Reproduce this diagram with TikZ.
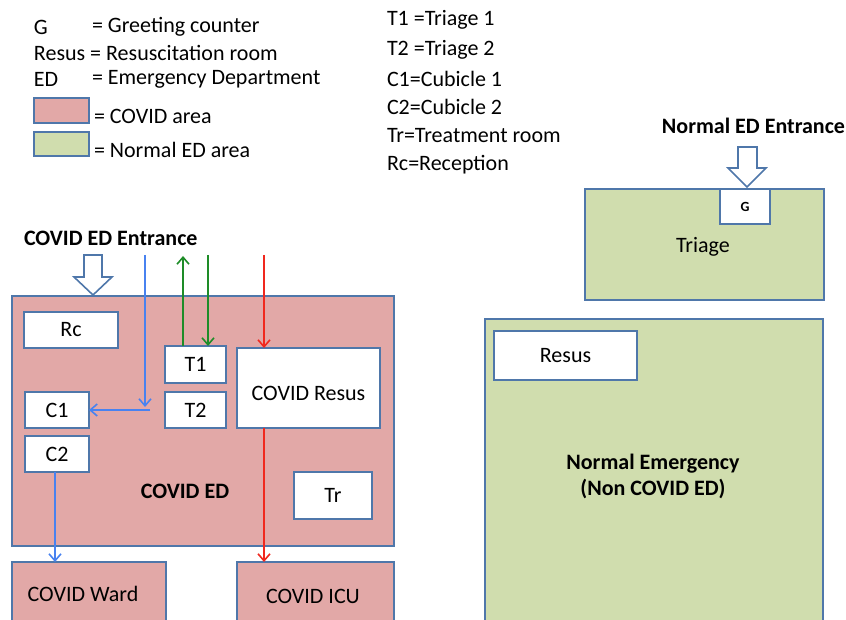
\documentclass[tikz,border=0pt]{standalone}
\usepackage{fontspec}
\setmainfont{Carlito}
\usetikzlibrary{arrows.meta}
\definecolor{pinkfill}{RGB}{226,168,167}
\definecolor{greenfill}{RGB}{208,221,174}
\definecolor{edgeblue}{RGB}{79,119,170}
\definecolor{flowblue}{RGB}{72,130,240}
\definecolor{flowgreen}{RGB}{30,140,40}
\definecolor{flowred}{RGB}{240,40,30}
\begin{document}
\begin{tikzpicture}[x=1pt,y=-1pt,
  every node/.style={font=\fontsize{22}{26}\selectfont, inner sep=0pt, outer sep=0pt},
  area/.style={draw=edgeblue, line width=1.6pt, anchor=north west},
  covid/.style={area, fill=pinkfill},
  normal/.style={area, fill=greenfill},
  room/.style={area, fill=white},
  lbl/.style={anchor=west},
  boldlbl/.style={font=\fontsize{22}{26}\selectfont\bfseries},
  flow/.style={line width=1.6pt, -{Straight Barb[length=7pt,width=12pt]}},
  hollow/.style={draw=edgeblue, line width=1.6pt, fill=white, line join=miter}]
\useasboundingbox (0,0) rectangle (846,620);
\clip (0,0) rectangle (846,620);

% legend (left)
\node[lbl] (lg) at (34,27) {G};
\node[lbl] (lgt) at (92,27) {= Greeting counter};
\node[lbl] (lres) at (34,53) {Resus = Resuscitation room};
\node[lbl] (led) at (34,79) {ED};
\node[lbl] (ledt) at (92,79) {= Emergency Department};
\node[covid, minimum width=55pt, minimum height=25pt] (lpink) at (34,98) {};
\node[lbl] (lpinkt) at (94,116) {= COVID area};
\node[normal, minimum width=55pt, minimum height=24pt] (lgreen) at (34,132) {};
\node[lbl] (lgreent) at (94,150) {= Normal ED area};

% legend (middle)
\node[lbl] (m1) at (387,20) {T1 =Triage 1};
\node[lbl] (m2) at (387,50) {T2 =Triage 2};
\node[lbl] (m3) at (387,79) {C1=Cubicle 1};
\node[lbl] (m4) at (387,107) {C2=Cubicle 2};
\node[lbl] (m5) at (387,136) {Tr=Treatment room};
\node[lbl] (m6) at (387,165) {Rc=Reception};

% COVID side
\node[boldlbl, lbl] (centr) at (24,238) {COVID ED Entrance};
\draw[hollow] (84,255) -- (102,255) -- (102,277) -- (112,277) -- (93,295) -- (74,277) -- (84,277) -- cycle;
\node[covid, minimum width=382pt, minimum height=250pt] (ced) at (12,296) {};
\node[boldlbl] (cedt) at (185,491) {COVID ED};
\node[room, minimum width=94pt, minimum height=36pt] (rc) at (24,312) {Rc};
\node[room, minimum width=61pt, minimum height=37pt] (t1) at (165,346) {T1};
\node[room, minimum width=61pt, minimum height=36pt] (t2) at (165,392) {T2};
\node[room, minimum width=64pt, minimum height=36pt] (c1) at (25,392) {C1};
\node[room, minimum width=64pt, minimum height=36pt] (c2) at (25,436) {C2};
\node[room, minimum width=143pt, minimum height=80pt] (cres) at (237,348) {};
\node (cresl) at (cres.center) [yshift=-5pt] {COVID Resus};
\node[room, minimum width=78pt, minimum height=47pt] (tr) at (294,472) {Tr};
\node[covid, minimum width=154pt, minimum height=80pt] (ward) at (12,562) {};
\node (wardt) at (83,594) {COVID Ward};
\node[covid, minimum width=157pt, minimum height=80pt] (icu) at (237,562) {};
\node (icut) at (313,596) {COVID ICU};

% flows
\coordinate (btop) at (145,255);
\coordinate (bcorner) at (145,407);
\coordinate (bstart) at (150,410);
\draw[flow, flowblue] (btop) -- (bcorner);
\draw[flow, flowblue] (bstart) -- (c1.east |- bstart);
\draw[flow, flowgreen] ([xshift=-12.5pt]t1.north) -- ++(0,-90);
\coordinate (gtop) at (208,255);
\draw[flow, flowgreen] (gtop) -- (gtop |- t1.north);
\coordinate (rtop) at (264,255);
\draw[flow, flowred] (rtop) -- (rtop |- cres.north);
\draw[flow, flowred] (rtop |- cres.south) -- (rtop |- icu.north);
\draw[flow, flowblue] ([xshift=-2pt]c2.south) -- ([xshift=-2pt]c2.south |- ward.north);

% Normal side
\node[boldlbl, anchor=east] (nentr) at (845,126) {Normal ED Entrance};
\draw[hollow] (738,147) -- (757,147) -- (757,168) -- (766,168) -- (747,187) -- (728,168) -- (738,168) -- cycle;
\node[normal, minimum width=239pt, minimum height=111pt] (triage) at (585,189) {};
\node (triaget) at (703,247) {Triage};
\node[room, minimum width=50pt, minimum height=35pt, font=\fontsize{14}{16}\selectfont\bfseries] (g) at (720,189) {G};
\node[normal, minimum width=338pt, minimum height=320pt] (nem) at (485,319) {};
\node[room, minimum width=143pt, minimum height=49pt] (nres) at (494,331) {Resus};
\node[boldlbl, align=center] (nemt) at (653,476) {Normal Emergency\\(Non COVID ED)};
\end{tikzpicture}
\end{document}
